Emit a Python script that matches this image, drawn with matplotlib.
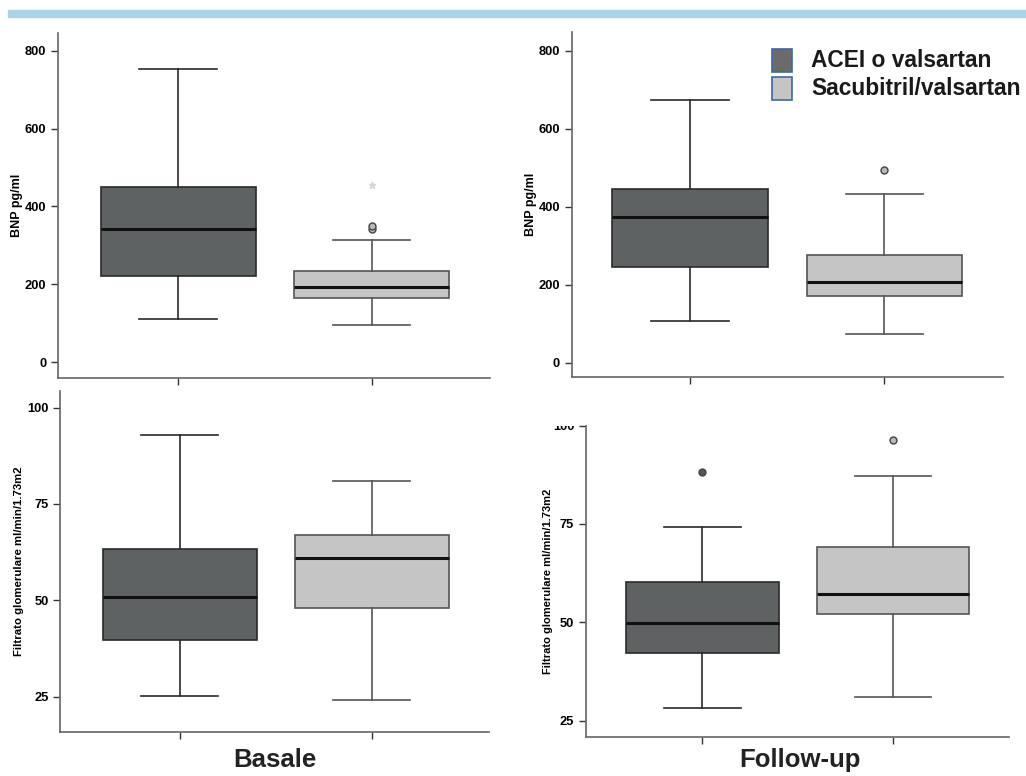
import numpy as np
import matplotlib.pyplot as plt
from matplotlib.patches import Rectangle
from matplotlib.transforms import Bbox, TransformedBbox

plt.rcParams['font.family'] = ['Liberation Sans', 'DejaVu Sans']

groups = ['ACEI o valsartan', 'Sacubitril/valsartan']
periods = ['Basale', 'Follow-up']

# box statistics: whislo, q1, median, q3, whishi
bnp_basale = [[111, 222, 343, 450, 754], [94, 164, 192, 233, 315]]
bnp_basale_fliers = [[], [343, 351]]
bnp_basale_extreme = [None, 454]

bnp_follow = [[106, 244, 373, 445, 674], [72, 170, 207, 277, 432]]
bnp_follow_fliers = [[], [493]]

gfr_basale = [[25.2, 39.6, 50.9, 63.4, 92.9], [24.1, 48.0, 60.9, 66.9, 80.9]]
gfr_basale_fliers = [[], []]

gfr_follow = [[28.1, 42.2, 49.7, 60.2, 74.3], [31.1, 52.2, 57.2, 69.2, 87.3]]
gfr_follow_fliers = [[88.2], [96.3]]

fills = ['#5f6262', '#c4c5c4']
edges = ['#2a2a2a', '#555555']
flier_fc = ['#555555', '#b8b8b8']

fig = plt.figure(figsize=(10.26, 7.76), dpi=100)

# banner strip on top
fig.patches.append(Rectangle((8 / 1026, 1 - 17 / 776), 1, 7 / 776,
                             transform=fig.transFigure, color='#a9d3e6', zorder=0))


def draw_panel(rect, stats, fliers, ylim, yticks, ylabel, ylab_size, xlim, extreme=None):
    ax = fig.add_axes(rect)
    for i, (s, fl) in enumerate(zip(stats, fliers)):
        d = dict(whislo=s[0], q1=s[1], med=s[2], q3=s[3], whishi=s[4], fliers=fl)
        ax.bxp([d], positions=[i + 1], widths=0.8, patch_artist=True,
               boxprops=dict(facecolor=fills[i], edgecolor=edges[i], linewidth=1.2),
               whiskerprops=dict(color=edges[i], linewidth=1.2),
               capprops=dict(color=edges[i], linewidth=1.2),
               medianprops=dict(color='#111111', linewidth=2.2),
               flierprops=dict(marker='o', markersize=5, markerfacecolor=flier_fc[i],
                               markeredgecolor='#444444', markeredgewidth=1.0))
        if extreme is not None and extreme[i] is not None:
            ax.plot([i + 1], [extreme[i]], marker='*', color='#d6d6d6', markersize=5,
                    linestyle='none')
    ax.set_xlim(*xlim)
    ax.set_ylim(*ylim)
    ax.set_yticks(yticks)
    ax.set_xticks([1, 2])
    ax.set_xticklabels(['', ''])
    for sp in ['top', 'right']:
        ax.spines[sp].set_visible(False)
    for sp in ['left', 'bottom']:
        ax.spines[sp].set_color('#666666')
        ax.spines[sp].set_linewidth(1.2)
    ax.tick_params(axis='both', length=5, width=1.0, color='#333333', direction='out')
    for lab in ax.get_yticklabels():
        lab.set_fontweight('bold')
        lab.set_fontsize(9.3)
    ax.set_ylabel(ylabel, fontsize=ylab_size, fontweight='bold')
    return ax


ax1 = draw_panel([0.0565, 0.5129, 0.421, 0.4446], bnp_basale, bnp_basale_fliers,
                 (-41, 846), [0, 200, 400, 600, 800], 'BNP pg/ml', 9, (0.38, 2.61),
                 extreme=bnp_basale_extreme)
ax1.yaxis.set_label_coords(-0.08, 0.5)

ax2 = draw_panel([0.5572, 0.5142, 0.4204, 0.4446], bnp_follow, bnp_follow_fliers,
                 (-37, 848), [0, 200, 400, 600, 800], 'BNP pg/ml', 9, (0.39, 2.61))
ax2.yaxis.set_label_coords(-0.08, 0.5)

ax3 = draw_panel([0.0588, 0.0571, 0.4181, 0.4394], gfr_basale, gfr_basale_fliers,
                 (15.9, 104.4), [25, 50, 75, 100],
                 'Filtrato glomerulare ml/min/1.73m2', 8.2, (0.38, 2.61))
ax3.yaxis.set_label_coords(-0.085, 0.5)

ax4 = draw_panel([0.5712, 0.0507, 0.4126, 0.4008], gfr_follow, gfr_follow_fliers,
                 (20.9, 100), [25, 50, 75, 100],
                 'Filtrato glomerulare ml/min/1.73m2', 8.0, (0.39, 2.61))
ax4.yaxis.set_label_coords(-0.078, 0.5)
# the "100" label is cut at the top of the panel
clip = TransformedBbox(Bbox([[-0.3, -0.1], [1.0, 1.0]]), ax4.transAxes)
for lab in ax4.get_yticklabels():
    lab.set_clip_box(clip)
    lab.set_clip_on(True)

# period labels under the bottom panels
for x, p in zip([275, 800], periods):
    fig.text(x / 1026, 1 - 760 / 776, p, fontsize=18.5, fontweight='bold',
             color='#222222', ha='center', va='center')

# legend drawn in figure coords
for i, g in enumerate(groups):
    y0 = 1 - (72 + 28 * i) / 776
    fig.patches.append(Rectangle((772 / 1026, y0), 20 / 1026, 23 / 776,
                                 transform=fig.transFigure, facecolor=fills[i] if i else '#6b6b6b',
                                 edgecolor='#3d67a8', linewidth=1.2, zorder=5))
    fig.text(811 / 1026, y0 + 11.5 / 776, g, fontsize=16.4, fontweight='bold',
             color='#1a1a1a', va='center', ha='left')

fig.savefig('out.png', dpi=100)
